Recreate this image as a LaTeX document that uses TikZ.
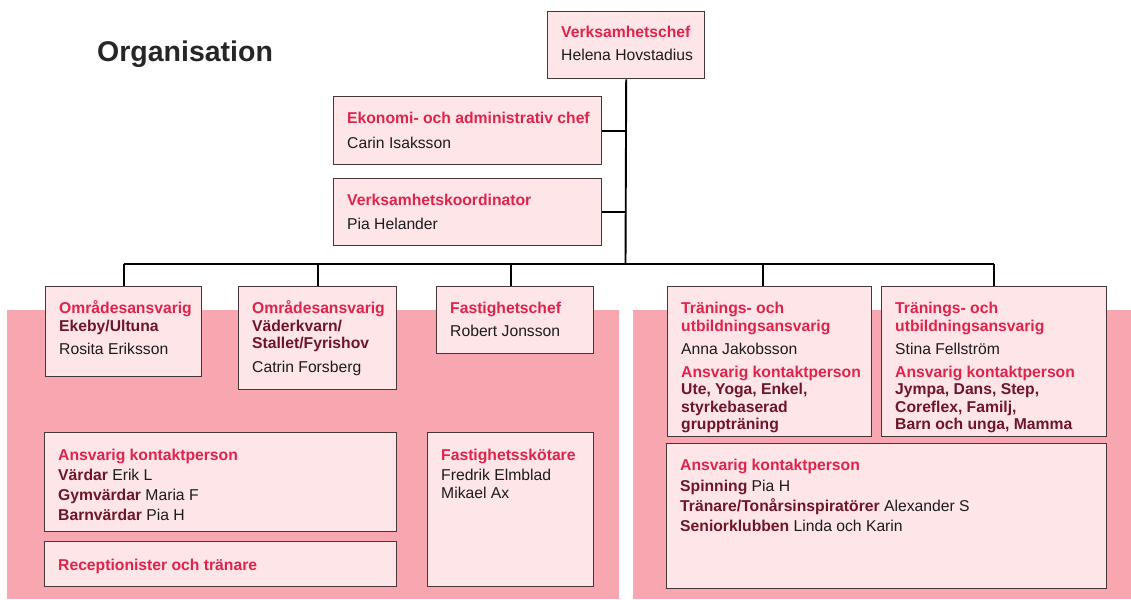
\documentclass[tikz,border=0pt]{standalone}
\usepackage{fontspec}
\setmainfont{Liberation Sans}
\usetikzlibrary{calc}
\definecolor{pinkbg}{HTML}{F8A7B0}
\definecolor{boxfill}{HTML}{FDE5E8}
\definecolor{boxline}{HTML}{45363A}
\definecolor{hdred}{HTML}{E0234B}
\definecolor{dkred}{HTML}{6E1628}
\definecolor{txtblack}{HTML}{1C1C1C}
\definecolor{titlegray}{HTML}{262626}
\newcommand{\dk}[1]{{\bfseries\color{dkred}#1}}
\tikzset{
  box/.style={draw=boxline, line width=1.4pt, fill=boxfill, anchor=north west, inner sep=0pt},
  ln/.style={anchor=base west, inner sep=0pt, font=\fontsize{15.7}{18}\selectfont, text=txtblack},
  hd/.style={ln, font=\fontsize{15.7}{18}\selectfont\bfseries, text=hdred},
  dkl/.style={ln, font=\fontsize{15.7}{18}\selectfont\bfseries, text=dkred},
  conn/.style={draw=black, line width=1.9pt},
  bg/.style={fill=pinkbg, draw=none}
}
\begin{document}
\begin{tikzpicture}[x=1pt,y=-1pt]
\useasboundingbox (0,0) rectangle (1131,599);
% backgrounds
\fill[bg] (7,310) rectangle (619,599);
\fill[bg] (633,310) rectangle (1131,599);
% title
\node[anchor=base west, inner sep=0pt, font=\fontsize{28.5}{32}\selectfont\bfseries, text=titlegray] (title) at (97,62) {Organisation};
% boxes
\node[box, minimum width=157pt, minimum height=67pt] (vc) at (547,11) {};
\node[box, minimum width=268pt, minimum height=68pt] (eko) at (333,96) {};
\node[box, minimum width=268pt, minimum height=67pt] (vk) at (333,178) {};
\node[box, minimum width=156pt, minimum height=90pt] (oa1) at (45,286) {};
\node[box, minimum width=158pt, minimum height=103pt] (oa2) at (238,286) {};
\node[box, minimum width=157pt, minimum height=67pt] (fc) at (436,286) {};
\node[box, minimum width=204pt, minimum height=150pt] (tr1) at (667,286) {};
\node[box, minimum width=225pt, minimum height=150pt] (tr2) at (881,286) {};
\node[box, minimum width=352pt, minimum height=99pt] (ak1) at (44,432) {};
\node[box, minimum width=352pt, minimum height=45pt] (rec) at (44,541) {};
\node[box, minimum width=166pt, minimum height=154pt] (fs) at (427,432) {};
\node[box, minimum width=440pt, minimum height=145pt] (ak2) at (666,443) {};
% connectors
\coordinate (bus) at (625.5,264);
\coordinate (fcdrop) at ($(fc.north west)+(75,0)$);
\coordinate (tr1drop) at ($(tr1.north west)+(96,0)$);
\draw[conn] (vc.south) -- (bus);
\draw[conn] (eko.east) -- (eko.east -| vc.south);
\draw[conn] (vk.east) -- (vk.east -| vc.south);
\draw[conn] (oa1.north |- bus) -- (tr2.north |- bus);
\draw[conn] (oa1.north |- bus) -- (oa1.north);
\draw[conn] (oa2.north |- bus) -- (oa2.north);
\draw[conn] (fcdrop |- bus) -- (fcdrop);
\draw[conn] (tr1drop |- bus) -- (tr1drop);
\draw[conn] (tr2.north |- bus) -- (tr2.north);
% texts
\node[hd] (vc-1) at (561,37.5) {Verksamhetschef};
\node[ln] (vc-2) at (561,61) {Helena Hovstadius};
\node[hd] (eko-1) at (347,123) {Ekonomi- och administrativ chef};
\node[ln] (eko-2) at (347,148) {Carin Isaksson};
\node[hd] (vk-1) at (347,205) {Verksamhetskoordinator};
\node[ln] (vk-2) at (347,229) {Pia Helander};
\node[hd] (oa1-1) at (59,313) {Områdesansvarig};
\node[dkl] (oa1-2) at (59,331) {Ekeby/Ultuna};
\node[ln] (oa1-3) at (59,354) {Rosita Eriksson};
\node[hd] (oa2-1) at (252,313) {Områdesansvarig};
\node[dkl] (oa2-2) at (252,331) {Väderkvarn/};
\node[dkl] (oa2-3) at (252,348.5) {Stallet/Fyrishov};
\node[ln] (oa2-4) at (252,372) {Catrin Forsberg};
\node[hd] (fc-1) at (450,313) {Fastighetschef};
\node[ln] (fc-2) at (450,336) {Robert Jonsson};
\node[hd] (tr1-1) at (681,313) {Tränings- och};
\node[hd] (tr1-2) at (681,331) {utbildningsansvarig};
\node[ln] (tr1-3) at (681,354) {Anna Jakobsson};
\node[hd] (tr1-4) at (681,377) {Ansvarig kontaktperson};
\node[dkl] (tr1-5) at (681,394.5) {Ute, Yoga, Enkel,};
\node[dkl] (tr1-6) at (681,412) {styrkebaserad};
\node[dkl] (tr1-7) at (681,429.5) {gruppträning};
\node[hd] (tr2-1) at (895,313) {Tränings- och};
\node[hd] (tr2-2) at (895,331) {utbildningsansvarig};
\node[ln] (tr2-3) at (895,354) {Stina Fellström};
\node[hd] (tr2-4) at (895,377) {Ansvarig kontaktperson};
\node[dkl] (tr2-5) at (895,394.5) {Jympa, Dans, Step,};
\node[dkl] (tr2-6) at (895,412) {Coreflex, Familj,};
\node[dkl] (tr2-7) at (895,429.5) {Barn och unga, Mamma};
\node[hd] (ak1-1) at (58,460) {Ansvarig kontaktperson};
\node[ln] (ak1-2) at (58,480) {\dk{Värdar} Erik L};
\node[ln] (ak1-3) at (58,500) {\dk{Gymvärdar} Maria F};
\node[ln] (ak1-4) at (58,520) {\dk{Barnvärdar} Pia H};
\node[hd] (rec-1) at (58,570) {Receptionister och tränare};
\node[hd] (fs-1) at (441,460) {Fastighetsskötare};
\node[ln] (fs-2) at (441,480) {Fredrik Elmblad};
\node[ln] (fs-3) at (441,498) {Mikael Ax};
\node[hd] (ak2-1) at (680,470) {Ansvarig kontaktperson};
\node[ln] (ak2-2) at (680,491) {\dk{Spinning} Pia H};
\node[ln] (ak2-3) at (680,511) {\dk{Tränare/Tonårsinspiratörer} Alexander S};
\node[ln] (ak2-4) at (680,531) {\dk{Seniorklubben} Linda och Karin};
\end{tikzpicture}
\end{document}
